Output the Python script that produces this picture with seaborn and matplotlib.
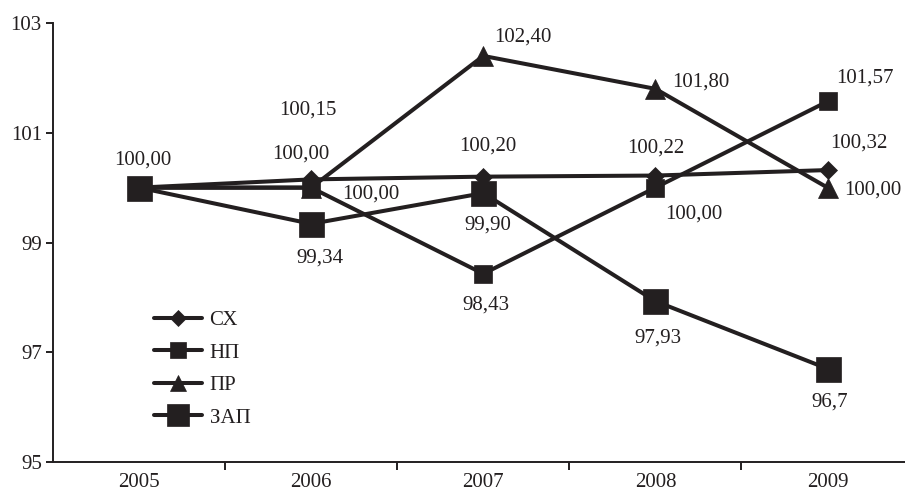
import matplotlib
matplotlib.use("Agg")
import matplotlib.pyplot as plt
import seaborn as sns
import numpy as np
import pandas as pd

years = ["2005", "2006", "2007", "2008", "2009"]
series_names = ["СХ", "НП", "ПР", "ЗАП"]
sx = [100.00, 100.15, 100.20, 100.22, 100.32]
np_ = [100.00, 100.00, 98.43, 100.00, 101.57]
pr = [100.00, 100.00, 102.40, 101.80, 100.00]
zap = [100.00, 99.34, 99.90, 97.93, 96.70]

sx_labels = ["", "100,15", "100,20", "100,22", "100,32"]
np_labels = ["", "100,00", "98,43", "100,00", "101,57"]
pr_labels = ["", "100,00", "102,40", "101,80", "100,00"]
zap_labels = ["100,00", "99,34", "99,90", "97,93", "96,7"]

y_ticks = [95, 97, 99, 101, 103]

sns.set_theme(style="ticks")
plt.rcParams["font.family"] = ["Liberation Serif", "DejaVu Serif"]

color = "#231f20"
fig = plt.figure(figsize=(9.05, 4.93), dpi=100)
ax = fig.add_axes([53 / 905, 31 / 493, 852 / 905, 439 / 493])

x = np.arange(len(years))
data = {"СХ": sx, "НП": np_, "ПР": pr, "ЗАП": zap}
markers = {"СХ": "D", "НП": "s", "ПР": "^", "ЗАП": "s"}
msizes = {"СХ": 9.5, "НП": 13.5, "ПР": 14, "ЗАП": 18}
order_draw = ["ЗАП", "НП", "ПР", "СХ"]

for name in order_draw:
    df = pd.DataFrame({"x": x, "y": data[name]})
    sns.lineplot(data=df, x="x", y="y", ax=ax, color=color, lw=2.9,
                 marker=markers[name], markersize=msizes[name],
                 markeredgecolor=color, markerfacecolor=color,
                 markeredgewidth=0.5, label=name, zorder=3)

# value labels (offsets in pixels relative to points)
offsets = {
    "СХ": [None, (-3, 69), (4, 31), (0, 28), (31, 27)],
    "НП": [None, (60, -6), (3, -31), (38, -26), (37, 23)],
    "ПР": [None, (-10, 34), (40, 19), (45, 7), (45, -2)],
    "ЗАП": [(4, 28), (9, -34), (5, -32), (3, -37), (2, -33)],
}
labels = {"СХ": sx_labels, "НП": np_labels, "ПР": pr_labels, "ЗАП": zap_labels}
for name in series_names:
    for i, lab in enumerate(labels[name]):
        if not lab:
            continue
        dx, dy = offsets[name][i]
        ax.annotate(lab, (x[i], data[name][i]), xytext=(dx, dy),
                    textcoords="offset pixels", ha="center", va="center",
                    fontsize=15, color=color, zorder=5)

ax.set_xlim(-0.5, 4.45)
ax.set_ylim(95, 103)
ax.set_yticks(y_ticks)
ax.set_yticklabels([str(t) for t in y_ticks])
ax.set_xticks(x)
ax.set_xticklabels(years)
ax.set_xticks([0.5, 1.5, 2.5, 3.5], minor=True)
ax.tick_params(axis="x", which="major", length=0, pad=8, labelsize=15, colors=color)
ax.tick_params(axis="x", which="minor", length=6, width=1.4, direction="out", color=color)
ax.tick_params(axis="y", which="major", length=5, width=1.4, pad=3, labelsize=15, colors=color)
ax.set_xlabel("")
ax.set_ylabel("")
for s in ["top", "right"]:
    ax.spines[s].set_visible(False)
for s in ["left", "bottom"]:
    ax.spines[s].set_linewidth(1.4)
    ax.spines[s].set_color(color)

handles, labs = ax.get_legend_handles_labels()
hmap = dict(zip(labs, handles))
leg = ax.legend([hmap[n] for n in series_names], series_names,
                loc="upper left", bbox_to_anchor=(0.119, 0.345),
                frameon=False, fontsize=15, handlelength=2.3,
                handletextpad=0.35, labelspacing=0.62, markerscale=0.85,
                borderpad=0, borderaxespad=0)
for t in leg.get_texts():
    t.set_color(color)

fig.savefig("out.png", dpi=100)
